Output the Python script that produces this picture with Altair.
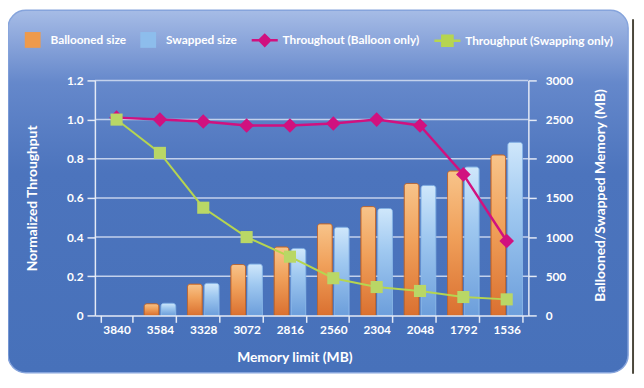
import altair as alt
import pandas as pd

MEM = ["3840", "3584", "3328", "3072", "2816", "2560", "2304", "2048", "1792", "1536"]
BALLOONED = [0, 150, 400, 650, 875, 1170, 1390, 1685, 1845, 2050]
SWAPPED = [0, 155, 410, 655, 855, 1125, 1365, 1660, 1895, 2210]
THR_BALLOON = [1.01, 1.0, 0.99, 0.97, 0.97, 0.98, 1.0, 0.97, 0.72, 0.38]
THR_SWAP = [1.0, 0.83, 0.55, 0.40, 0.30, 0.19, 0.145, 0.125, 0.094, 0.082]
LEFT_TICKS = [0, 0.2, 0.4, 0.6, 0.8, 1.0, 1.2]
RIGHT_TICKS = [0, 500, 1000, 1500, 2000, 2500, 3000]
SERIES = ["Ballooned size", "Swapped size", "Throughout (Balloon only)", "Throughput (Swapping only)"]

FONT = "Lato"
W, H = 439, 238

bars = pd.DataFrame({
    "mem": MEM * 2,
    "series": [SERIES[0]] * len(MEM) + [SERIES[1]] * len(MEM),
    "value": BALLOONED + SWAPPED,
})
thr = pd.DataFrame({
    "mem": MEM * 2,
    "series": [SERIES[2]] * len(MEM) + [SERIES[3]] * len(MEM),
    "value": THR_BALLOON + THR_SWAP,
})
grid = pd.DataFrame({"v": LEFT_TICKS[1:]})
legend_df = pd.DataFrame({"series": SERIES})
one = pd.DataFrame({"a": [0]})

AX = dict(zindex=1, grid=False,
          domainColor="#e4eaf6", domainWidth=1.5, tickColor="#e4eaf6", tickWidth=1.5,
          labelFont=FONT, labelFontSize=12, labelFontWeight="bold", labelColor="white",
          titleFont=FONT, titleFontSize=14, titleFontWeight="bold", titleColor="white")

x_axis = alt.Axis(tickBand="extent", tickSize=7, labelPadding=2, labelAngle=0,
                  titleX=202, titleY=43, titleBaseline="middle", titleAlign="center", **AX)
X = alt.X("mem:N", sort=MEM, title="Memory limit (MB)", axis=x_axis,
          scale=alt.Scale(paddingInner=0.27, paddingOuter=0.135))
XOFF = alt.XOffset("series:N", scale=alt.Scale(domain=SERIES[:2], paddingInner=0.12))

bg = alt.Chart(one).mark_rect(
    fill=alt.Gradient(gradient="linear", x1=0, y1=0, x2=0, y2=1, stops=[
        alt.GradientStop(offset=0, color="#a6bce6"),
        alt.GradientStop(offset=0.09, color="#89a4da"),
        alt.GradientStop(offset=0.2, color="#6588cb"),
        alt.GradientStop(offset=0.45, color="#4c74bd"),
        alt.GradientStop(offset=1, color="#4771ba"),
    ]),
    stroke="#86a4dc", strokeWidth=1.5, cornerRadius=18,
).encode(x=alt.value(-88), x2=alt.value(540), y=alt.value(-71), y2=alt.value(296))

frame = alt.Chart(one).mark_rule(color="#4a473a", strokeWidth=2).encode(
    x=alt.value(545), y=alt.value(-62), y2=alt.value(297))

grid_layer = alt.Chart(grid).mark_rule(color="#c3d1ec", strokeWidth=1.5).encode(
    y=alt.Y("v:Q", scale=alt.Scale(domain=[0, 1.2]), axis=None),
    x=alt.value(0), x2=alt.value(W))

orange = alt.Gradient(gradient="linear", x1=0, y1=0, x2=0, y2=1, stops=[
    alt.GradientStop(offset=0, color="#f8c48a"),
    alt.GradientStop(offset=0.45, color="#f0a05a"),
    alt.GradientStop(offset=1, color="#da7030"),
])
blue = alt.Gradient(gradient="linear", x1=0, y1=0, x2=0, y2=1, stops=[
    alt.GradientStop(offset=0, color="#cfe7fb"),
    alt.GradientStop(offset=0.4, color="#9fc8f0"),
    alt.GradientStop(offset=1, color="#6c9edb"),
])

right_axis = alt.Axis(orient="right", values=RIGHT_TICKS, format="d", tickSize=8, labelPadding=9,
                      title="Ballooned/Swapped Memory (MB)", titleAngle=270,
                      titleX=73, titleY=116, titleBaseline="middle", titleAlign="center", **AX)

bar_o = alt.Chart(bars).transform_filter(
    (alt.datum.series == SERIES[0]) & (alt.datum.value > 0)
).mark_bar(fill=orange, stroke="#c86420", strokeWidth=0.8,
           cornerRadiusTopLeft=3, cornerRadiusTopRight=3).encode(
    x=X, xOffset=XOFF,
    y=alt.Y("value:Q", scale=alt.Scale(domain=[0, 3000]), axis=right_axis),
)
bar_b = alt.Chart(bars).transform_filter(
    (alt.datum.series == SERIES[1]) & (alt.datum.value > 0)
).mark_bar(fill=blue, stroke="#8cb9ea", strokeWidth=0.8,
           cornerRadiusTopLeft=3, cornerRadiusTopRight=3).encode(
    x=X, xOffset=XOFF,
    y=alt.Y("value:Q", scale=alt.Scale(domain=[0, 3000]), axis=None),
)

left_axis = alt.Axis(orient="left", values=LEFT_TICKS, tickSize=8, labelPadding=4,
                     labelExpr="datum.value == 0 ? '0' : format(datum.value, '.1f')",
                     title="Normalized Throughput", titleAngle=270,
                     titleX=-63, titleY=119, titleBaseline="middle", titleAlign="center", **AX)

MAG = "#d1117f"
GRN = "#b6d550"

line_m = alt.Chart(thr).transform_filter(alt.datum.series == SERIES[2]).mark_line(
    color=MAG, strokeWidth=2.5).encode(
    x=X, y=alt.Y("value:Q", scale=alt.Scale(domain=[0, 1.2]), axis=left_axis))
line_g = alt.Chart(thr).transform_filter(alt.datum.series == SERIES[3]).mark_line(
    color=GRN, strokeWidth=2).encode(
    x=X, y=alt.Y("value:Q", scale=alt.Scale(domain=[0, 1.2]), axis=None))
pt_m = alt.Chart(thr).transform_filter(alt.datum.series == SERIES[2]).mark_point(
    shape="diamond", filled=True, size=220, color=MAG, opacity=1).encode(
    x=X, y=alt.Y("value:Q", scale=alt.Scale(domain=[0, 1.2]), axis=None))
pt_g = alt.Chart(thr).transform_filter(alt.datum.series == SERIES[3]).mark_point(
    shape="square", filled=True, size=150, color="#b9d766", opacity=1).encode(
    x=X, y=alt.Y("value:Q", scale=alt.Scale(domain=[0, 1.2]), axis=None))

DIAMOND_LINE = ("M-1.65,-0.16L-0.74,-0.16L0,-0.9L0.74,-0.16L1.65,-0.16L1.65,0.16"
                "L0.74,0.16L0,0.9L-0.74,0.16L-1.65,0.16Z")
SQUARE_LINE = ("M-1.65,-0.16L-0.8,-0.16L-0.8,-0.8L0.8,-0.8L0.8,-0.16L1.65,-0.16"
               "L1.65,0.16L0.8,0.16L0.8,0.8L-0.8,0.8L-0.8,0.16L-1.65,0.16Z")

leg = alt.Legend(title=None, orient="none", legendX=-71, legendY=-49,
                 direction="horizontal", symbolSize=256, symbolStrokeWidth=0,
                 labelFont=FONT, labelFontSize=12, labelFontWeight="bold",
                 labelColor="white", labelOffset=10, columnPadding=14, labelLimit=300)

legend_layer = alt.Chart(legend_df).mark_point(filled=True, opacity=1, size=256).encode(
    x=alt.value(-2000), y=alt.value(-2000),
    color=alt.Color("series:N", scale=alt.Scale(
        domain=SERIES, range=["#ee9a4c", "#8dbdec", MAG, GRN]), legend=leg),
    shape=alt.Shape("series:N", scale=alt.Scale(
        domain=SERIES, range=["square", "square", DIAMOND_LINE, SQUARE_LINE]), legend=leg),
)

chart = alt.layer(
    bg, frame, grid_layer, bar_o, bar_b, line_m, line_g, pt_m, pt_g, legend_layer
).resolve_scale(y="independent").properties(
    width=W, height=H, autosize="none",
    padding={"left": 88, "top": 71, "right": 109, "bottom": 59},
    background="white",
).configure_view(stroke=None)

chart.save("out.html", embed_options={"renderer": "svg", "actions": False})
